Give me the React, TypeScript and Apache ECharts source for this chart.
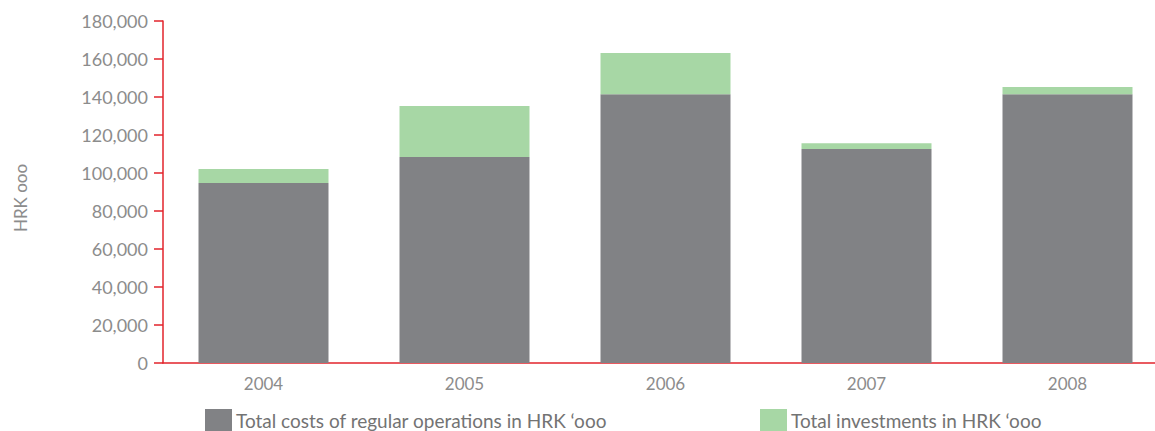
import React, { useEffect, useRef } from "react";
import * as echarts from "echarts";

const categories = ["2004", "2005", "2006", "2007", "2008"];
const regularCosts = [94700, 108400, 141500, 112600, 141500];
const investments = [7400, 26800, 21600, 3100, 3700];
const seriesNames = ["Total costs of regular operations in HRK ‘ooo", "Total investments in HRK ‘ooo"];
const yAxisName = "HRK ooo";

const RED = "#e2232b";
const TEXT = "#8c8c8c";
const FONT = "Lato, 'Open Sans', sans-serif";

export default function App() {
  const ref = useRef<HTMLDivElement>(null);
  useEffect(() => {
    if (!ref.current) return;
    const chart = echarts.init(ref.current, undefined, { renderer: "svg" });
    const legendText = { color: "#737373", fontSize: 19, fontFamily: FONT, padding: [0, 0, 0, -1] };
    chart.setOption({
      animation: false,
      textStyle: { fontFamily: FONT },
      grid: { left: 163, top: 21, bottom: 68, right: 0, containLabel: false },
      legend: [
        {
          data: [seriesNames[0]],
          left: 205,
          top: 409,
          padding: 0,
          itemWidth: 27,
          itemHeight: 22,
          itemGap: 0,
          icon: "rect",
          textStyle: legendText,
        },
        {
          data: [seriesNames[1]],
          left: 760,
          top: 409,
          padding: 0,
          itemWidth: 27,
          itemHeight: 22,
          itemGap: 0,
          icon: "rect",
          textStyle: legendText,
        },
      ],
      graphic: [
        {
          type: "text",
          x: 20,
          y: 198,
          rotation: Math.PI / 2,
          style: {
            text: yAxisName,
            fill: TEXT,
            fontSize: 17,
            fontFamily: FONT,
            align: "center",
            verticalAlign: "middle",
          },
        },
      ],
      xAxis: {
        type: "category",
        data: categories,
        axisLine: { lineStyle: { color: RED, width: 1.5 } },
        axisTick: { show: false },
        axisLabel: { color: TEXT, fontSize: 17, margin: 12, fontFamily: FONT },
      },
      yAxis: {
        type: "value",
        min: 0,
        max: 180000,
        interval: 20000,
        splitLine: { show: false },
        axisLine: { show: true, lineStyle: { color: RED, width: 1.5 } },
        axisTick: { show: true, length: 9, lineStyle: { color: RED, width: 1.5 } },
        axisLabel: {
          color: TEXT,
          fontSize: 18,
          margin: 15,
          fontFamily: FONT,
          formatter: (v: number) => v.toLocaleString("en-US"),
        },
      },
      series: [
        {
          name: seriesNames[0],
          type: "bar",
          stack: "total",
          data: regularCosts,
          barWidth: 130,
          itemStyle: { color: "#818285" },
        },
        {
          name: seriesNames[1],
          type: "bar",
          stack: "total",
          data: investments,
          barWidth: 130,
          itemStyle: { color: "#a7d7a5" },
        },
      ],
    });
    return () => chart.dispose();
  }, []);
  return (
    <div style={{ position: "absolute", left: 0, top: 0, width: 1155, height: 431, overflow: "hidden", background: "#fff" }}>
      <div ref={ref} style={{ width: 1168, height: 431 }} />
    </div>
  );
}
